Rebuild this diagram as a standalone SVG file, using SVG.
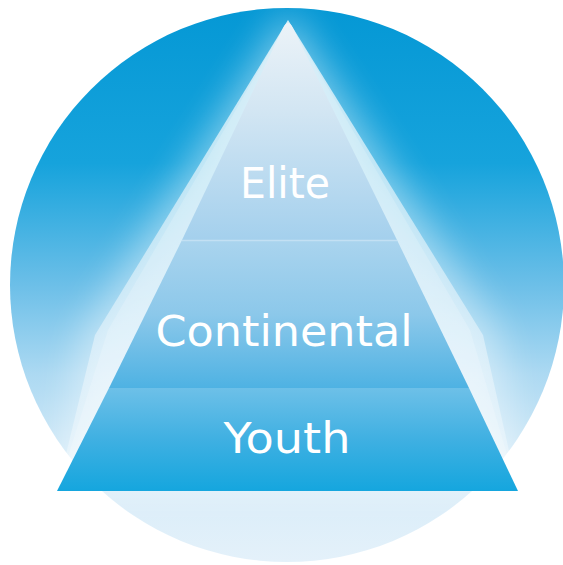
<svg xmlns="http://www.w3.org/2000/svg" width="563" height="565" viewBox="0 0 563 565">
<defs>
<linearGradient id="bg" x1="0" y1="8" x2="0" y2="562" gradientUnits="userSpaceOnUse">
<stop offset="0" stop-color="#0598d5"/>
<stop offset="0.28" stop-color="#16a3dc"/>
<stop offset="0.5" stop-color="#6cbfe8"/>
<stop offset="0.66" stop-color="#acd9f2"/>
<stop offset="0.82" stop-color="#d5ebf8"/>
<stop offset="1" stop-color="#e4f1fa"/>
</linearGradient>
<linearGradient id="gElite" x1="0" y1="22" x2="0" y2="240" gradientUnits="userSpaceOnUse">
<stop offset="0" stop-color="#ecf3f8"/>
<stop offset="0.4" stop-color="#d3e6f3"/>
<stop offset="1" stop-color="#a4d0ed"/>
</linearGradient>
<linearGradient id="gCont" x1="0" y1="240" x2="0" y2="388" gradientUnits="userSpaceOnUse">
<stop offset="0" stop-color="#aad4ee"/>
<stop offset="0.5" stop-color="#8cc8ea"/>
<stop offset="1" stop-color="#4eb2e3"/>
</linearGradient>
<linearGradient id="gYouth" x1="0" y1="388" x2="0" y2="491" gradientUnits="userSpaceOnUse">
<stop offset="0" stop-color="#6dc0e8"/>
<stop offset="0.5" stop-color="#3fb0e2"/>
<stop offset="1" stop-color="#15a6de"/>
</linearGradient>
<linearGradient id="gGlow" x1="0" y1="22" x2="0" y2="491" gradientUnits="userSpaceOnUse">
<stop offset="0" stop-color="#ffffff" stop-opacity="0.75"/>
<stop offset="0.6" stop-color="#ffffff" stop-opacity="0.45"/>
<stop offset="1" stop-color="#ffffff" stop-opacity="0.25"/>
</linearGradient>
<filter id="blur" x="-30%" y="-30%" width="160%" height="160%">
<feGaussianBlur stdDeviation="18"/>
</filter>
<clipPath id="circ"><circle cx="287" cy="285" r="277"/></clipPath>
</defs>
<style>
.lbl{font-family:"DejaVu Sans","Liberation Sans",Arial,sans-serif;font-size:42px;fill:#ffffff;text-anchor:middle}
</style>
<g id="background">
<circle cx="287" cy="285" r="277" fill="url(#bg)"/>
<g clip-path="url(#circ)">
<polygon points="288,10 500,335 520,491 57,491 80,335" fill="#ffffff" opacity="0.45" filter="url(#blur)"/>
</g>
<polygon points="288,20 483,335 518,491 57,491 95,335" fill="url(#gGlow)"/>
<polygon points="288,20 470,330 518,491 57,491 108,330" fill="#ffffff" opacity="0.18"/>
</g>
<g id="pyramid">
<g id="elite">
<path d="M182,240 L283,28 Q288,18 293,28 L397,240 Z" fill="url(#gElite)"/>
<text class="lbl" x="285" y="198" textLength="90" lengthAdjust="spacingAndGlyphs">Elite</text>
</g>
<g id="continental">
<polygon points="182,240 397,240 469,388 109,388" fill="url(#gCont)"/>
<line x1="182" y1="240.5" x2="397" y2="240.5" stroke="#c3e0f3" stroke-width="1.5"/>
<text class="lbl" x="284" y="346" textLength="257" lengthAdjust="spacingAndGlyphs">Continental</text>
</g>
<g id="youth">
<polygon points="109,388 469,388 518,491 57,491" fill="url(#gYouth)"/>
<text class="lbl" x="287" y="453" textLength="127" lengthAdjust="spacingAndGlyphs">Youth</text>
</g>
</g>
</svg>
